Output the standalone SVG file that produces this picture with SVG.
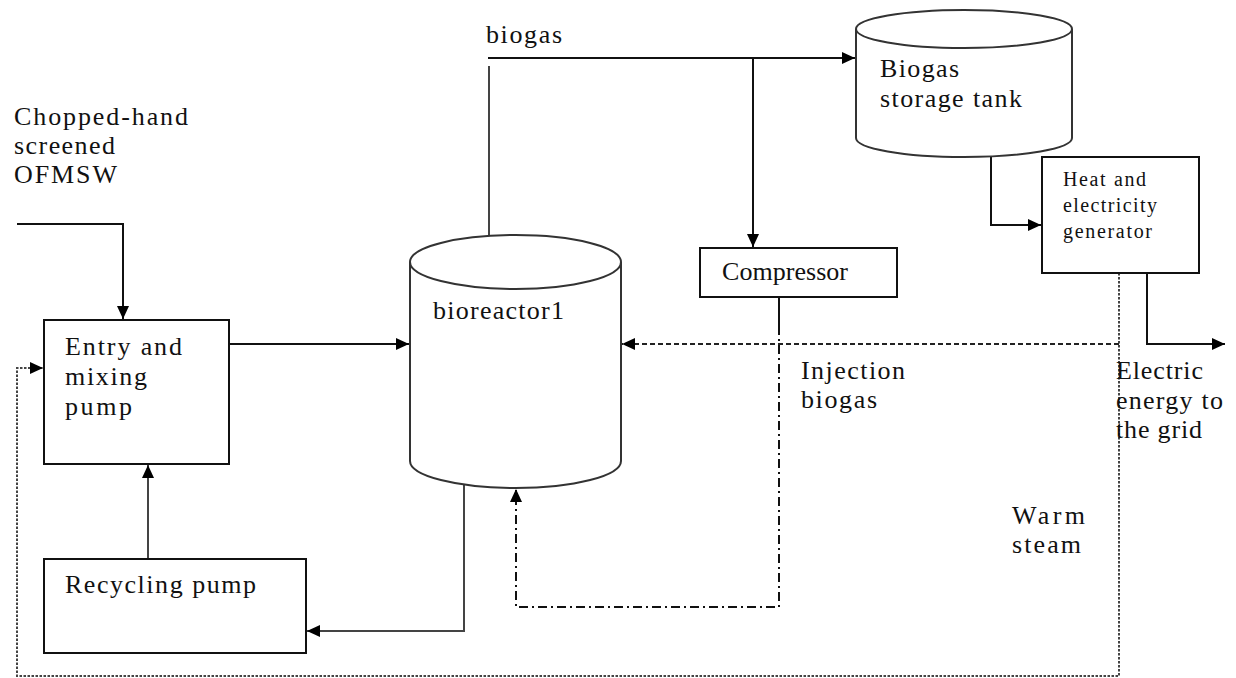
<svg xmlns="http://www.w3.org/2000/svg" width="1236" height="678" viewBox="0 0 1236 678">
  <style>
    .lbl { font-family: "Liberation Serif", "Times New Roman", serif; font-size: 26px; fill: #111; }
    .sm { font-size: 20px; }
    .box { fill: #fff; stroke: #111; stroke-width: 2; }
    .tank { fill: #fff; stroke: #333; stroke-width: 2; }
    .flow { fill: none; stroke: #111; stroke-width: 2; }
    .flow-gray { fill: none; stroke: #444; stroke-width: 2; }
    .steam { fill: none; stroke: #444; stroke-width: 2; stroke-dasharray: 2.5 1.5; }
    .steam-feed { fill: none; stroke: #222; stroke-width: 2; stroke-dasharray: 5 3; }
    .inject { fill: none; stroke: #111; stroke-width: 2; stroke-dasharray: 9 4 2 4; }
  </style>
  <defs>
    <marker id="arrow" markerUnits="userSpaceOnUse" markerWidth="14" markerHeight="12" refX="13" refY="6" orient="auto">
      <path d="M0,0 L13,6 L0,12 Z" fill="#000"/>
    </marker>
  </defs>

  <rect width="1236" height="678" fill="#fff"/>

  <!-- connectors -->
  <g id="connectors">
    <!-- feed into the entry pump -->
    <path class="flow" d="M17,224 H123 V319" marker-end="url(#arrow)"/>
    <!-- entry pump to bioreactor -->
    <path class="flow" d="M229,344 H409" marker-end="url(#arrow)"/>
    <!-- biogas off-take from bioreactor -->
    <path class="flow-gray" d="M489,236 V66"/>
    <path class="flow" d="M488,58 H855" marker-end="url(#arrow)"/>
    <!-- branch to compressor -->
    <path class="flow" d="M753,58 V247" marker-end="url(#arrow)"/>
    <!-- storage tank to generator -->
    <path class="flow" d="M991,156 V225 H1041" marker-end="url(#arrow)"/>
    <!-- electricity to the grid -->
    <path class="flow" d="M1147,273 V344 H1225" marker-end="url(#arrow)"/>
    <!-- bioreactor outlet to recycling pump -->
    <path class="flow-gray" d="M464,485 V631 H307" marker-end="url(#arrow)"/>
    <!-- recycling pump back to entry pump -->
    <path class="flow-gray" d="M148,559 V465" marker-end="url(#arrow)"/>
    <!-- compressed biogas injection -->
    <path class="flow" d="M779,297 V326"/>
    <path class="inject" d="M779,326 V607 H516 V489" marker-end="url(#arrow)"/>
    <!-- warm steam loop -->
    <path class="steam" d="M1119,273 V676 H17 V368 H43" marker-end="url(#arrow)"/>
    <path class="steam-feed" d="M1119,344 H622" marker-end="url(#arrow)"/>
  </g>

  <!-- feed label -->
  <g id="feed-label">
    <text class="lbl" x="14" y="125" textLength="174" lengthAdjust="spacing">Chopped-hand</text>
    <text class="lbl" x="14" y="154" textLength="101" lengthAdjust="spacing">screened</text>
    <text class="lbl" x="14" y="183" textLength="103" lengthAdjust="spacing">OFMSW</text>
  </g>

  <g id="entry-pump">
    <rect class="box" x="44" y="320" width="185" height="144"/>
    <text class="lbl" x="65" y="355" textLength="117" lengthAdjust="spacing">Entry and</text>
    <text class="lbl" x="65" y="385" textLength="82" lengthAdjust="spacing">mixing</text>
    <text class="lbl" x="65" y="415" textLength="67" lengthAdjust="spacing">pump</text>
  </g>

  <g id="recycling-pump">
    <rect class="box" x="44" y="559" width="262" height="94"/>
    <text class="lbl" x="65" y="593" textLength="191" lengthAdjust="spacing">Recycling pump</text>
  </g>

  <g id="bioreactor">
    <path class="tank" d="M410,262 V461 A105.5,27 0 0 0 621,461 V262"/>
    <ellipse class="tank" cx="515.5" cy="262" rx="105.5" ry="27"/>
    <text class="lbl" x="433" y="319" textLength="131" lengthAdjust="spacing">bioreactor1</text>
  </g>

  <g id="biogas-label">
    <text class="lbl" x="486" y="43" textLength="76" lengthAdjust="spacing">biogas</text>
  </g>

  <g id="storage-tank">
    <path class="tank" d="M856,29 V138 A108,19 0 0 0 1072,138 V29"/>
    <ellipse class="tank" cx="964" cy="29" rx="108" ry="19"/>
    <text class="lbl" x="880" y="77" textLength="79" lengthAdjust="spacing">Biogas</text>
    <text class="lbl" x="880" y="107" textLength="142" lengthAdjust="spacing">storage tank</text>
  </g>

  <g id="compressor">
    <rect class="box" x="700" y="248" width="197" height="49"/>
    <text class="lbl" x="722" y="280" textLength="126" lengthAdjust="spacing">Compressor</text>
  </g>

  <g id="generator">
    <rect class="box" x="1042" y="157" width="157" height="116"/>
    <text class="lbl sm" x="1063" y="186" textLength="83" lengthAdjust="spacing">Heat and</text>
    <text class="lbl sm" x="1063" y="212" textLength="94" lengthAdjust="spacing">electricity</text>
    <text class="lbl sm" x="1063" y="238" textLength="89" lengthAdjust="spacing">generator</text>
  </g>

  <g id="injection-label">
    <text class="lbl" x="801" y="379" textLength="104" lengthAdjust="spacing">Injection</text>
    <text class="lbl" x="801" y="408" textLength="76" lengthAdjust="spacing">biogas</text>
  </g>

  <g id="grid-label">
    <text class="lbl" x="1116" y="379" textLength="87" lengthAdjust="spacing">Electric</text>
    <text class="lbl" x="1116" y="409" textLength="107" lengthAdjust="spacing">energy to</text>
    <text class="lbl" x="1116" y="438" textLength="86" lengthAdjust="spacing">the grid</text>
  </g>

  <g id="steam-label">
    <text class="lbl" x="1012" y="524" textLength="73" lengthAdjust="spacing">Warm</text>
    <text class="lbl" x="1012" y="553" textLength="69" lengthAdjust="spacing">steam</text>
  </g>
</svg>
